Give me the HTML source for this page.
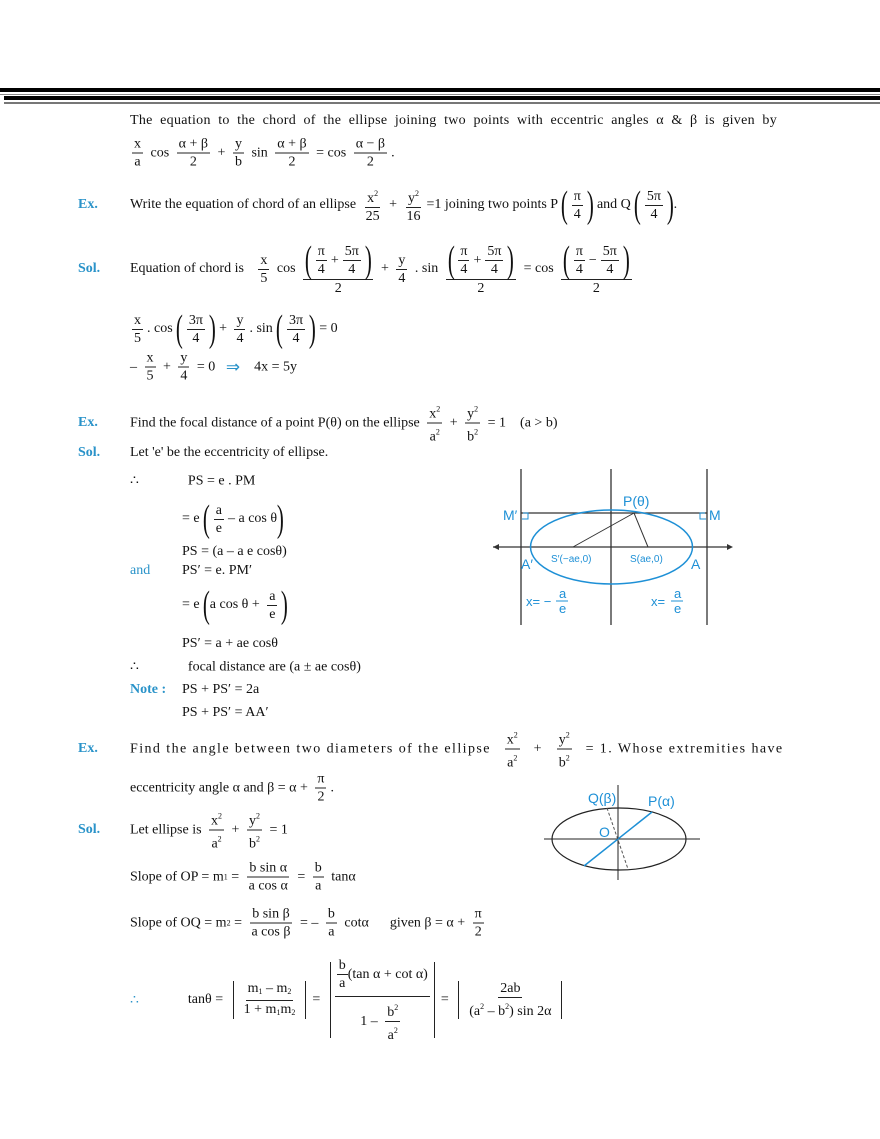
<!DOCTYPE html>
<html><head><meta charset="utf-8"><style>
body{margin:0;width:880px;height:1139px;background:#fff;position:relative;overflow:hidden;font-family:"Liberation Serif",serif;font-size:14px;color:#111}
.r{position:absolute;display:flex;align-items:center;transform:translateY(-50%);white-space:pre}
.f{display:inline-flex;flex-direction:column;align-items:center;margin:0 4px}
.f>span{line-height:17px;padding:0 2px}
.f>span:first-child{border-bottom:1px solid #222}
.p{font-size:38px;line-height:38px;display:inline-block;transform:scaleX(.55);font-weight:normal;margin:0 -3px}
.b{color:#2a93c9;font-weight:bold;position:absolute}
.bl{color:#2a93c9;position:absolute}
sup{font-size:8px;vertical-align:6px}
sub{font-size:8px;vertical-align:-2px}
.abs{display:inline-block;border-left:1px solid #222;border-right:1px solid #222;padding:0 4px;margin:0 6px}
</style></head><body>
<div style="position:absolute;left:0;top:88px;width:880px;height:4px;background:#000"></div>
<div style="position:absolute;left:0;top:94px;width:880px;height:1px;background:#888"></div>
<div style="position:absolute;left:4px;top:96px;width:876px;height:4px;background:#000"></div>
<div style="position:absolute;left:4px;top:102px;width:876px;height:2px;background:#777"></div>

<div style="position:absolute;left:130px;top:113px;width:647px;text-align:justify;text-align-last:justify;white-space:nowrap;letter-spacing:0.3px;word-spacing:1px">The equation to the chord of the ellipse joining two points with eccentric angles α &amp; β is given by</div>
<div class="r" style="left:128px;top:153px"><span class="f"><span>x</span><span>a</span></span> cos <span class="f"><span>α + β</span><span>2</span></span> + <span class="f"><span>y</span><span>b</span></span> sin <span class="f"><span>α + β</span><span>2</span></span> = cos <span class="f"><span>α − β</span><span>2</span></span>.</div>

<div class="b" style="left:78px;top:197px">Ex.</div>
<div class="r" style="left:130px;top:205px">Write the equation of chord of an ellipse <span class="f"><span>x<sup>2</sup></span><span>25</span></span> + <span class="f"><span>y<sup>2</sup></span><span>16</span></span>=1 joining two points P <span class="p">(</span><span class="f"><span>π</span><span>4</span></span><span class="p">)</span> and Q <span class="p">(</span><span class="f"><span>5π</span><span>4</span></span><span class="p">)</span>.</div>

<div class="b" style="left:78px;top:261px">Sol.</div>
<div class="r" style="left:130px;top:269px">Equation of chord is   <span class="f"><span>x</span><span>5</span></span> cos <span class="f"><span style="display:flex;align-items:center"><span class="p">(</span><span class="f"><span>π</span><span>4</span></span>+<span class="f"><span>5π</span><span>4</span></span><span class="p">)</span></span><span>2</span></span> + <span class="f"><span>y</span><span>4</span></span> . sin <span class="f"><span style="display:flex;align-items:center"><span class="p">(</span><span class="f"><span>π</span><span>4</span></span>+<span class="f"><span>5π</span><span>4</span></span><span class="p">)</span></span><span>2</span></span> = cos <span class="f"><span style="display:flex;align-items:center"><span class="p">(</span><span class="f"><span>π</span><span>4</span></span>−<span class="f"><span>5π</span><span>4</span></span><span class="p">)</span></span><span>2</span></span></div>

<div class="r" style="left:128px;top:329px"><span class="f"><span>x</span><span>5</span></span>. cos <span class="p">(</span><span class="f"><span>3π</span><span>4</span></span><span class="p">)</span> + <span class="f"><span>y</span><span>4</span></span>. sin <span class="p">(</span><span class="f"><span>3π</span><span>4</span></span><span class="p">)</span> = 0</div>
<div class="r" style="left:130px;top:367px">– <span class="f"><span>x</span><span>5</span></span> + <span class="f"><span>y</span><span>4</span></span> = 0   <span style="color:#2a93c9;font-size:17px">⇒</span>    4x = 5y</div>

<div class="b" style="left:78px;top:415px">Ex.</div>
<div class="r" style="left:130px;top:423px">Find the focal distance of a point P(θ) on the ellipse <span class="f"><span>x<sup>2</sup></span><span>a<sup>2</sup></span></span> + <span class="f"><span>y<sup>2</sup></span><span>b<sup>2</sup></span></span> = 1    (a &gt; b)</div>
<div class="b" style="left:78px;top:445px">Sol.</div>
<div class="r" style="left:130px;top:453px">Let 'e' be the eccentricity of ellipse.</div>
<div class="r" style="left:130px;top:481px">∴              PS = e . PM</div>
<div class="r" style="left:182px;top:519px">= e <span class="p">(</span><span class="f"><span>a</span><span>e</span></span>– a cos θ<span class="p">)</span></div>
<div class="r" style="left:182px;top:552px">PS = (a – a e cosθ)</div>
<div class="bl" style="left:130px;top:563px">and</div>
<div class="r" style="left:182px;top:571px">PS′ = e. PM′</div>
<div class="r" style="left:182px;top:605px">= e <span class="p">(</span>a cos θ + <span class="f"><span>a</span><span>e</span></span><span class="p">)</span></div>
<div class="r" style="left:182px;top:644px">PS′ = a + ae cosθ</div>
<div class="r" style="left:130px;top:667px">∴              focal distance are (a ± ae cosθ)</div>
<div class="b" style="left:130px;top:682px">Note :</div>
<div class="r" style="left:182px;top:690px">PS + PS′ = 2a</div>
<div class="r" style="left:182px;top:713px">PS + PS′ = AA′</div>

<svg style="position:absolute;left:0;top:0" width="880" height="1139">
<g stroke="#333" stroke-width="1.3" fill="none">
<line x1="521" y1="469" x2="521" y2="625"/><line x1="611" y1="469" x2="611" y2="625"/><line x1="707" y1="469" x2="707" y2="625"/>
<line x1="521" y1="513" x2="707" y2="513"/>
<line x1="493" y1="547" x2="730" y2="547"/>
<line x1="634" y1="513" x2="573" y2="547" stroke-width="1"/><line x1="634" y1="513" x2="648" y2="547" stroke-width="1"/>
</g>
<path d="M493 547l6-3v6z M733 547l-6-3v6z" fill="#333"/>
<ellipse cx="611.5" cy="547" rx="81" ry="37" fill="none" stroke="#1e90d6" stroke-width="1.5"/>
<g stroke="#1e90d6" fill="none"><path d="M523 513h5v6h-6"/><path d="M705 513h-5v6h6"/></g>
<g font-family="Liberation Sans,sans-serif" fill="#1e90d6">
<text x="623" y="506" font-size="14">P(θ)</text>
<text x="503" y="520" font-size="14">M′</text><text x="709" y="520" font-size="14">M</text>
<text x="551" y="562" font-size="10">S′(−ae,0)</text><text x="630" y="562" font-size="10">S(ae,0)</text>
<text x="521" y="569" font-size="14">A′</text><text x="691" y="569" font-size="14">A</text>
<text x="526" y="606" font-size="13">x= −</text><text x="559" y="598" font-size="13">a</text><line x1="556" y1="601" x2="568" y2="601" stroke="#1e90d6"/><text x="559" y="613" font-size="13">e</text>
<text x="651" y="606" font-size="13">x=</text><text x="674" y="598" font-size="13">a</text><line x1="671" y1="601" x2="683" y2="601" stroke="#1e90d6"/><text x="674" y="613" font-size="13">e</text>
</g>
<ellipse cx="619" cy="839" rx="67" ry="31" fill="none" stroke="#222" stroke-width="1.2"/>
<line x1="544" y1="839" x2="700" y2="839" stroke="#222"/>
<line x1="618" y1="785" x2="618" y2="880" stroke="#222"/>
<line x1="584" y1="866" x2="652" y2="812" stroke="#1e90d6" stroke-width="1.5"/>
<line x1="607" y1="808" x2="628" y2="869" stroke="#555" stroke-dasharray="3,2"/>
<g font-family="Liberation Sans,sans-serif" fill="#1e90d6" font-size="14">
<text x="588" y="803">Q(β)</text><text x="648" y="806">P(α)</text><text x="599" y="837">O</text>
</g>
</svg>

<div class="b" style="left:78px;top:741px">Ex.</div>
<div class="r" style="left:130px;top:749px;letter-spacing:1.42px">Find the angle between two diameters of the ellipse  <span class="f" style="letter-spacing:0"><span>x<sup>2</sup></span><span>a<sup>2</sup></span></span>  +  <span class="f" style="letter-spacing:0"><span>y<sup>2</sup></span><span>b<sup>2</sup></span></span>  = 1. Whose extremities have</div>
<div class="r" style="left:130px;top:788px">eccentricity angle α and β = α + <span class="f"><span>π</span><span>2</span></span>.</div>
<div class="b" style="left:78px;top:822px">Sol.</div>
<div class="r" style="left:130px;top:830px">Let ellipse is <span class="f"><span>x<sup>2</sup></span><span>a<sup>2</sup></span></span> + <span class="f"><span>y<sup>2</sup></span><span>b<sup>2</sup></span></span> = 1</div>
<div class="r" style="left:130px;top:877px">Slope of OP = m<sub>1</sub> = <span class="f"><span>b sin α</span><span>a cos α</span></span> = <span class="f"><span>b</span><span>a</span></span> tanα</div>
<div class="r" style="left:130px;top:923px">Slope of OQ = m<sub>2</sub> = <span class="f"><span>b sin β</span><span>a cos β</span></span> = – <span class="f"><span>b</span><span>a</span></span> cotα      given β = α + <span class="f"><span>π</span><span>2</span></span></div>
<div class="r" style="left:130px;top:1000px"><span style="color:#2a93c9">∴</span>              tanθ = <span class="abs" style="height:38px;display:inline-flex;align-items:center"><span class="f"><span>m<sub>1</sub> – m<sub>2</sub></span><span>1 + m<sub>1</sub>m<sub>2</sub></span></span></span>= <span class="abs" style="height:76px;display:inline-flex;align-items:center"><span class="f" style="margin:0"><span style="display:flex;align-items:center;padding-bottom:4px"><span class="f" style="margin:0"><span>b</span><span>a</span></span>(tan α + cot α)</span><span style="display:flex;align-items:center;padding-top:2px">1 – <span class="f"><span>b<sup>2</sup></span><span>a<sup>2</sup></span></span></span></span></span>= <span class="abs" style="height:38px;display:inline-flex;align-items:center"><span class="f"><span>2ab</span><span>(a<sup>2</sup> – b<sup>2</sup>) sin 2α</span></span></span></div>
</body></html>
